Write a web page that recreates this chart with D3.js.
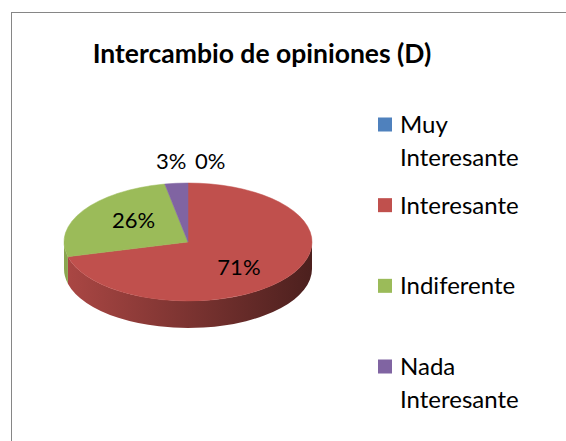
<!DOCTYPE html>
<html>
<head>
<meta charset="utf-8">
<script src="https://cdn.jsdelivr.net/npm/d3@7"></script>
<style>
  html, body { margin: 0; padding: 0; background: #fff; }
  svg { display: block; }
  text { font-family: Lato, "Noto Sans", sans-serif; fill: #000; }
</style>
</head>
<body>
<svg id="chart" width="566" height="441"></svg>
<script>
// chart data
var title = "Intercambio de opiniones (D)";
var categories = ["Muy Interesante", "Interesante", "Indiferente", "Nada Interesante"];
var values = [0, 71, 26, 3];
var colors = ["#4F81BD", "#C0504D", "#9BBB59", "#8064A2"];

var width = 566, height = 441,
    cx = 188, cy = 242,
    rx = 124, ry = 59,
    depth = 27,
    labelFx = 0.52, labelFy = 0.7,
    outsideGap = 14,
    legendX = 378, legendTextX = 400,
    legendTop = 124.5, legendBottom = 366.5,
    legendMaxWidth = 150, legendLineHeight = 33;

var svg = d3.select("#chart");

// chart frame
svg.append("rect")
    .attr("x", 11.5).attr("y", 12.5)
    .attr("width", width).attr("height", height)
    .attr("fill", "#fff")
    .attr("stroke", "#868686");

svg.append("text")
    .attr("x", 262).attr("y", 63)
    .attr("text-anchor", "middle")
    .attr("font-size", 26.5)
    .attr("font-weight", "bold")
    .text(title);

var data = categories.map(function(c, i) { return {name: c, value: values[i], color: colors[i]}; });
var total = d3.sum(values);

var pie = d3.pie().sort(null).value(function(d) { return d.value; });
var arcs = pie(data);

function pt(a, dy) {
    return [cx + rx * Math.sin(a), cy - ry * Math.cos(a) + (dy || 0)];
}

var defs = svg.append("defs");
arcs.forEach(function(d, i) {
    var c = d3.color(d.data.color),
        g = defs.append("linearGradient")
            .attr("id", "side" + i)
            .attr("gradientUnits", "userSpaceOnUse")
            .attr("x1", cx - rx).attr("x2", cx + rx)
            .attr("y1", 0).attr("y2", 0);
    g.append("stop").attr("offset", 0).attr("stop-color", c.darker(0.33));
    g.append("stop").attr("offset", 1).attr("stop-color", c.darker(2.6));
});

// side walls (front half only)
var sides = svg.append("g");
arcs.forEach(function(d, i) {
    var s = Math.max(d.startAngle, Math.PI / 2),
        e = Math.min(d.endAngle, Math.PI * 3 / 2);
    if (e <= s) return;
    var p0 = pt(s), p1 = pt(e), q0 = pt(s, depth), q1 = pt(e, depth);
    sides.append("path")
        .attr("d", "M" + p0 + " A" + rx + "," + ry + " 0 0 1 " + p1 +
            " L" + q1 + " A" + rx + "," + ry + " 0 0 0 " + q0 + " Z")
        .attr("fill", "url(#side" + i + ")");
});

// top faces
svg.append("g").selectAll("path")
    .data(arcs.filter(function(d) { return d.endAngle > d.startAngle; }))
    .enter().append("path")
        .attr("d", function(d) {
            var large = (d.endAngle - d.startAngle) > Math.PI ? 1 : 0;
            return "M" + cx + "," + cy + " L" + pt(d.startAngle) +
                " A" + rx + "," + ry + " 0 " + large + " 1 " + pt(d.endAngle) + " Z";
        })
        .attr("fill", function(d) { return d.data.color; })
        .attr("stroke", function(d) { return d.data.color; })
        .attr("stroke-width", 0.5);

// data labels: big slices inside, small ones above the rim
var fmt = function(v) { return Math.round(v / total * 100) + "%"; };
var labels = arcs.map(function(d) {
    var mid = (d.startAngle + d.endAngle) / 2;
    if (d.value / total < 0.05) {
        var left = Math.sin(mid) < 0;
        return {
            text: fmt(d.value),
            x: cx + rx * Math.sin(mid) + (left ? 10 : 7),
            y: cy - (ry + outsideGap) * Math.cos(mid),
            anchor: left ? "end" : "start"
        };
    }
    return {
        text: fmt(d.value),
        x: cx + rx * labelFx * Math.sin(mid),
        y: cy - ry * labelFy * Math.cos(mid) + 8,
        anchor: "middle"
    };
});

svg.append("g").selectAll("text")
    .data(labels)
    .enter().append("text")
        .attr("x", function(d) { return d.x; })
        .attr("y", function(d) { return d.y; })
        .attr("text-anchor", function(d) { return d.anchor; })
        .attr("font-size", 22)
        .text(function(d) { return d.text; });

// legend
var ly = d3.scalePoint().domain(categories).range([legendTop, legendBottom]);
var legend = svg.append("g").selectAll("g")
    .data(data)
    .enter().append("g")
        .attr("transform", function(d) { return "translate(0," + ly(d.name) + ")"; });

legend.append("rect")
    .attr("x", legendX).attr("y", -7)
    .attr("width", 14).attr("height", 14)
    .attr("fill", function(d) { return d.color; });

legend.append("text")
    .attr("x", legendTextX).attr("y", 8.5)
    .attr("font-size", 24)
    .each(function(d) {
        var t = d3.select(this).text(d.name);
        if (this.getComputedTextLength() > legendMaxWidth && d.name.indexOf(" ") > 0) {
            var words = d.name.split(" ");
            t.text(null);
            words.forEach(function(w, i) {
                t.append("tspan").attr("x", legendTextX).attr("dy", i ? legendLineHeight : 0).text(w);
            });
        }
    });
</script>
</body>
</html>
